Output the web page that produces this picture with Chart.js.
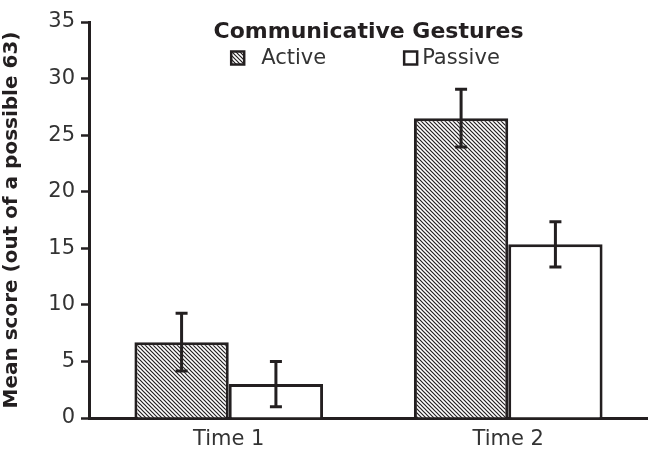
<!DOCTYPE html>
<html>
<head>
<meta charset="utf-8">
<script src="https://cdn.jsdelivr.net/npm/chart.js@4/dist/chart.umd.min.js"></script>
<style>
  body { margin: 0; background: #fff; }
  canvas { display: block; }
</style>
</head>
<body>
<canvas id="gestureChart" width="648" height="450"></canvas>
<script>
const categories = ['Time 1', 'Time 2'];
const activeMeans = [6.7, 26.5];
const activeErrors = [2.55, 2.55];
const passiveMeans = [3.0, 15.35];
const passiveErrors = [2.0, 2.0];
const yTicks = [0, 5, 10, 15, 20, 25, 30, 35];

const INK = '#231f20';
const FONT = "'DejaVu Sans', Verdana, sans-serif";

// diagonal hatch fill for the Active bars
function makeHatch() {
  const c = document.createElement('canvas');
  c.width = 4; c.height = 4;
  const g = c.getContext('2d');
  g.fillStyle = '#fff';
  g.fillRect(0, 0, 4, 4);
  g.strokeStyle = INK;
  g.lineWidth = 1.2;
  g.beginPath();
  g.moveTo(-1, -1); g.lineTo(5, 5);
  g.moveTo(-1, 3); g.lineTo(1, 5);
  g.moveTo(3, -1); g.lineTo(5, 1);
  g.stroke();
  return g.createPattern(c, 'repeat');
}
const hatch = makeHatch();

// error bars drawn from the bar elements
const errorBars = {
  id: 'errorBars',
  afterDatasetsDraw(chart) {
    const ctx = chart.ctx;
    const y = chart.scales.y;
    ctx.save();
    ctx.strokeStyle = INK;
    ctx.lineWidth = 3;
    chart.data.datasets.forEach((ds, i) => {
      chart.getDatasetMeta(i).data.forEach((bar, j) => {
        const v = ds.data[j], e = ds.errors[j];
        const top = y.getPixelForValue(v + e);
        const bot = y.getPixelForValue(v - e);
        const x = bar.x;
        ctx.beginPath();
        ctx.moveTo(x, top); ctx.lineTo(x, bot);
        ctx.moveTo(x - 6, top); ctx.lineTo(x + 6, top);
        ctx.moveTo(x - 6, bot); ctx.lineTo(x + 6, bot);
        ctx.stroke();
      });
    });
    ctx.restore();
  }
};

// legend drawn inside the plot area, title above the items
const legendGaps = [17, 5];
const innerLegend = {
  id: 'innerLegend',
  afterDraw(chart) {
    const ctx = chart.ctx;
    const area = chart.chartArea;
    const cx = (area.left + area.right) / 2;
    ctx.save();
    ctx.fillStyle = INK;
    ctx.textAlign = 'center';
    ctx.textBaseline = 'middle';
    ctx.font = 'bold 22px ' + FONT;
    ctx.fillText('Communicative Gestures', cx, area.top + 10);

    ctx.font = '21px ' + FONT;
    ctx.textAlign = 'left';
    const box = 13, spacing = 78;
    const items = chart.data.datasets.map((ds, i) => ({
      label: ds.label, fill: ds.backgroundColor, gap: legendGaps[i],
      w: box + legendGaps[i] + ctx.measureText(ds.label).width
    }));
    const total = items.reduce((s, it) => s + it.w, 0) + spacing * (items.length - 1);
    let x = cx - total / 2 - 3;
    const yy = area.top + 36;
    items.forEach(it => {
      ctx.fillStyle = it.fill;
      ctx.fillRect(x, yy - box / 2, box, box);
      ctx.strokeStyle = INK;
      ctx.lineWidth = 2.5;
      ctx.strokeRect(x, yy - box / 2, box, box);
      ctx.fillStyle = '#333';
      ctx.fillText(it.label, x + box + it.gap, yy + 1);
      x += it.w + spacing;
    });
    ctx.restore();
  }
};

new Chart(document.getElementById('gestureChart'), {
  type: 'bar',
  data: {
    labels: categories,
    datasets: [
      {
        label: 'Active',
        data: activeMeans,
        errors: activeErrors,
        backgroundColor: hatch,
        borderColor: INK,
        borderWidth: 3,
      },
      {
        label: 'Passive',
        data: passiveMeans,
        errors: passiveErrors,
        backgroundColor: '#fff',
        borderColor: INK,
        borderWidth: 3,
      },
    ],
  },
  options: {
    responsive: false,
    animation: false,
    layout: { padding: { top: 22, right: 0, left: 0, bottom: 0 } },
    datasets: { bar: { barPercentage: 1, categoryPercentage: 0.675 } },
    plugins: {
      legend: { display: false },
      tooltip: { enabled: false },
    },
    scales: {
      x: {
        grid: { display: false, drawTicks: false },
        border: { color: INK, width: 3 },
        ticks: { color: '#333', font: { family: FONT, size: 21 }, padding: 9 },
        afterFit(scale) { scale.height = 32; },
      },
      y: {
        min: 0,
        max: 35,
        afterBuildTicks(scale) { scale.ticks = yTicks.map(v => ({ value: v })); },
        grid: { drawOnChartArea: false, drawTicks: true, tickLength: 8, color: INK, tickWidth: 2.5 },
        border: { color: INK, width: 3 },
        ticks: { color: '#333', font: { family: FONT, size: 21 }, padding: 6 },
        title: {
          display: true,
          text: 'Mean score (out of a possible 63)',
          color: INK,
          font: { family: FONT, size: 20, weight: 'bold' },
          padding: { top: 0, bottom: 2 },
        },
        afterFit(scale) { scale.width = 89; },
      },
    },
  },
  plugins: [errorBars, innerLegend],
});
</script>
</body>
</html>
